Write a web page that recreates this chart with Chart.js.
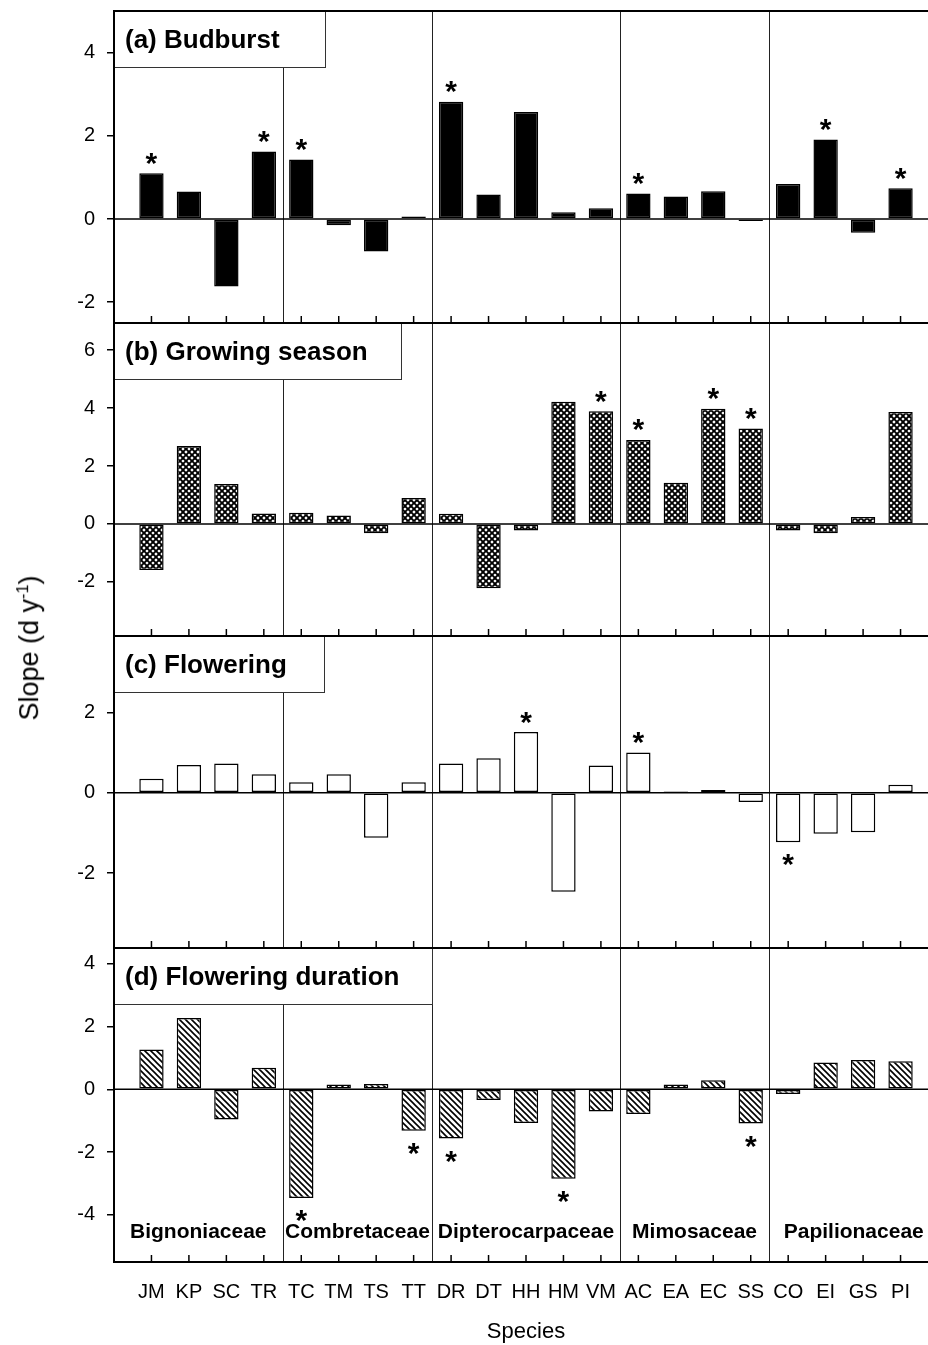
<!DOCTYPE html>
<html>
<head>
<meta charset="utf-8">
<script src="https://cdn.jsdelivr.net/npm/chart.js@4/dist/chart.umd.min.js"></script>
<style>
  html, body { margin: 0; padding: 0; background: #fff; width: 928px; height: 1345px; overflow: hidden; }
  canvas { position: absolute; left: 0; }
  #ytitle {
    position: absolute; left: 29px; top: 648px;
    font-family: "Liberation Sans", Arial, sans-serif; font-size: 27px; color: #000;
    white-space: nowrap; transform: translate(-50%, -50%) rotate(-90deg);
  }
  #ytitle sup { font-size: 0.6em; vertical-align: 0.6em; }
</style>
</head>
<body>
<canvas id="pa" width="940" height="323" style="top:0px"></canvas>
<canvas id="pb" width="940" height="325" style="top:311px"></canvas>
<canvas id="pc" width="940" height="324" style="top:624px"></canvas>
<canvas id="pd" width="940" height="409" style="top:936px"></canvas>
<div id="ytitle">Slope (d y<sup>-1</sup>)</div>
<script>
const species = ['JM', 'KP', 'SC', 'TR', 'TC', 'TM', 'TS', 'TT', 'DR', 'DT', 'HH', 'HM', 'VM', 'AC', 'EA', 'EC', 'SS', 'CO', 'EI', 'GS', 'PI'];
const familyNames = ['Bignoniaceae', 'Combretaceae', 'Dipterocarpaceae', 'Mimosaceae', 'Papilionaceae'];
const familySizes = [4, 4, 5, 4, 4];

const budburst = [1.10, 0.66, -1.62, 1.62, 1.43, -0.15, -0.78, 0.06, 2.82, 0.59, 2.57, 0.16, 0.26, 0.61, 0.54, 0.67, -0.05, 0.84, 1.91, -0.33, 0.74];
const budburstStars = ['JM', 'TR', 'TC', 'DR', 'AC', 'EI', 'PI'];
const growing = [-1.59, 2.69, 1.38, 0.36, 0.39, 0.29, -0.32, 0.90, 0.35, -2.22, -0.23, 4.22, 3.89, 2.90, 1.42, 3.98, 3.30, -0.23, -0.32, 0.24, 3.87];
const growingStars = ['VM', 'AC', 'EC', 'SS'];
const flowering = [0.35, 0.69, 0.73, 0.46, 0.26, 0.46, -1.12, 0.26, 0.73, 0.86, 1.51, -2.46, 0.68, 1.00, 0.03, 0.07, -0.23, -1.23, -1.02, -0.98, 0.20];
const floweringStars = ['HH', 'AC', 'CO'];
const duration = [1.27, 2.27, -0.96, 0.69, -3.46, 0.15, 0.17, -1.32, -1.57, -0.34, -1.07, -2.85, -0.71, -0.79, 0.15, 0.29, -1.09, -0.15, 0.85, 0.93, 0.89];
const durationStars = ['TC', 'TT', 'DR', 'HM', 'SS'];

const yTicksA = [-2, 0, 2, 4];
const yTicksB = [-2, 0, 2, 4, 6];
const yTicksC = [-2, 0, 2];
const yTicksD = [-4, -2, 0, 2, 4];

const FONT = '"Liberation Sans", Arial, sans-serif';

// family borders sit half way between neighbouring species
const edges = [-1];
let run = 0;
familySizes.forEach(n => { run += n; edges.push(run - 0.5); });
edges[edges.length - 1] = species.length;

function hatch(cross) {
    const t = document.createElement('canvas');
    t.width = 6; t.height = 6;
    const g = t.getContext('2d');
    g.fillStyle = '#fff';
    g.fillRect(0, 0, 6, 6);
    g.strokeStyle = '#000';
    g.lineWidth = cross ? 1.9 : 1.6;
    g.beginPath();
    for (let k = -1; k <= 1; k++) {
        g.moveTo(k * 6 - 1, -1); g.lineTo(k * 6 + 7, 7);
        if (cross) { g.moveTo(k * 6 + 7, -1); g.lineTo(k * 6 - 1, 7); }
    }
    g.stroke();
    return g.createPattern(t, 'repeat');
}

function line(ctx, x1, y1, x2, y2) {
    ctx.beginPath(); ctx.moveTo(x1, y1); ctx.lineTo(x2, y2); ctx.stroke();
}

function makeDecor(p) {
    return {
        id: 'decor',
        beforeDatasetsDraw(chart) {
            const { ctx, chartArea: a, scales: { x } } = chart;
            ctx.save();
            ctx.strokeStyle = '#222';
            ctx.lineWidth = 1;
            edges.slice(1, -1).forEach(b => {
                const px = Math.round(x.getPixelForValue(b)) + 0.5;
                line(ctx, px, a.top, px, a.bottom);
            });
            ctx.restore();
        },
        afterDatasetsDraw(chart) {
            const { ctx, chartArea: a, scales: { x, y } } = chart;
            ctx.save();
            ctx.strokeStyle = '#000';
            ctx.fillStyle = '#000';

            // zero line
            ctx.lineWidth = 1.5;
            const y0 = y.getPixelForValue(0);
            line(ctx, a.left, y0, a.right + 5, y0);

            // inward ticks on the bottom axis
            species.forEach((s, i) => {
                const px = x.getPixelForValue(i);
                line(ctx, px, a.bottom, px, a.bottom - 7);
            });

            // significance stars
            ctx.font = 'bold 30px ' + FONT;
            ctx.textAlign = 'center';
            ctx.textBaseline = 'alphabetic';
            const m = ctx.measureText('*');
            const shift = (m.actualBoundingBoxAscent - m.actualBoundingBoxDescent) / 2;
            p.stars.forEach(name => {
                const i = species.indexOf(name);
                const v = p.values[i];
                const py = y.getPixelForValue(v);
                const cy = v >= 0 ? py - 14.5 : py + 18;
                ctx.fillText('*', x.getPixelForValue(i), cy + shift);
            });

            // family names in the last panel
            if (p.last) {
                ctx.font = 'bold 21px ' + FONT;
                for (let f = 0; f < familyNames.length; f++) {
                    const cx = x.getPixelForValue((edges[f] + edges[f + 1]) / 2);
                    ctx.fillText(familyNames[f], cx, a.bottom - 24);
                }
            }

            // panel title box
            ctx.fillStyle = '#fff';
            ctx.fillRect(a.left, a.top, p.box, 56);
            ctx.strokeStyle = '#333';
            ctx.lineWidth = 1;
            ctx.strokeRect(a.left + 0.5, a.top + 0.5, p.box, 56);
            ctx.fillStyle = '#000';
            ctx.font = 'bold 26px ' + FONT;
            ctx.textAlign = 'left';
            ctx.fillText(p.title, a.left + 11, a.top + 37);

            // frame
            ctx.strokeStyle = '#000';
            ctx.lineWidth = 2;
            ctx.beginPath();
            ctx.moveTo(a.right + 5, a.top);
            ctx.lineTo(a.left, a.top);
            ctx.lineTo(a.left, a.bottom);
            ctx.lineTo(a.right + 5, a.bottom);
            ctx.stroke();
            ctx.restore();
        }
    };
}

const panels = [
    { id: 'pa', title: '(a) Budburst', values: budburst, stars: budburstStars, ticks: yTicksA, min: -2.5, max: 5, fill: '#000', pad: 11, box: 211 },
    { id: 'pb', title: '(b) Growing season', values: growing, stars: growingStars, ticks: yTicksB, min: -3.87, max: 6.94, fill: hatch(true), pad: 12, box: 287 },
    { id: 'pc', title: '(c) Flowering', values: flowering, stars: floweringStars, ticks: yTicksC, min: -3.86, max: 3.9, fill: '#fff', pad: 12, box: 210 },
    { id: 'pd', title: '(d) Flowering duration', values: duration, stars: durationStars, ticks: yTicksD, min: -5.5, max: 4.5, fill: hatch(false), pad: 12, box: 318, last: true }
];

panels.forEach(p => {
    new Chart(document.getElementById(p.id), {
        type: 'bar',
        data: {
            datasets: [{
                data: p.values.map((v, i) => ({ x: i, y: v })),
                backgroundColor: p.fill,
                borderColor: '#000',
                borderWidth: 1.5,
                borderSkipped: false,
                barPercentage: 0.65,
                categoryPercentage: 1
            }]
        },
        options: {
            responsive: false,
            animation: false,
            events: [],
            layout: { padding: { top: p.pad, left: 0, right: 2, bottom: 0 }, autoPadding: false },
            plugins: { legend: { display: false }, tooltip: { enabled: false } },
            scales: {
                x: {
                    type: 'linear',
                    offset: false,
                    min: -1,
                    max: species.length,
                    afterBuildTicks: s => { s.ticks = species.map((_, i) => ({ value: i })); },
                    afterFit: s => { s.height = p.last ? 83 : 0; s.paddingLeft = 0; s.paddingRight = 0; },
                    grid: { display: false, drawTicks: false },
                    border: { display: false },
                    ticks: {
                        display: !!p.last,
                        autoSkip: false,
                        maxRotation: 0,
                        padding: 18,
                        color: '#000',
                        font: { family: FONT, size: 20 },
                        callback: v => species[v] ?? ''
                    },
                    title: { display: !!p.last, text: 'Species', color: '#000', font: { family: FONT, size: 22 }, padding: 0 }
                },
                y: {
                    min: p.min,
                    max: p.max,
                    afterBuildTicks: s => { s.ticks = p.ticks.map(v => ({ value: v })); },
                    afterFit: s => { s.width = 114; s.paddingTop = 0; s.paddingBottom = 0; },
                    grid: { drawOnChartArea: false, drawTicks: true, tickLength: 7, color: '#000', lineWidth: 1.5 },
                    border: { display: false },
                    ticks: { padding: 12, color: '#000', font: { family: FONT, size: 20, lineHeight: 1 } }
                }
            }
        },
        plugins: [makeDecor(p)]
    });
});
</script>
</body>
</html>
